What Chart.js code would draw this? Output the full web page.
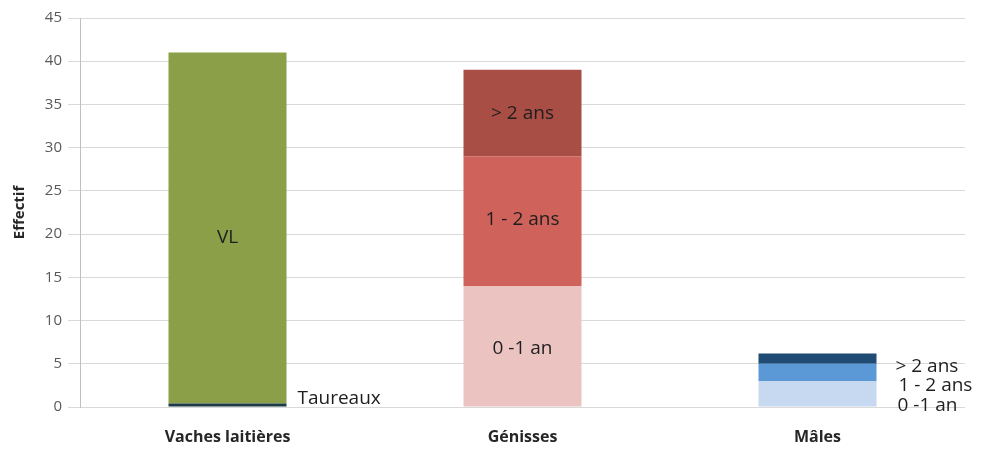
<!DOCTYPE html>
<html>
<head>
<meta charset="utf-8">
<script src="https://cdn.jsdelivr.net/npm/chart.js@4"></script>
<style>
  html, body { margin: 0; padding: 0; background: #ffffff; }
  #wrap { width: 985px; height: 450px; position: relative; }
</style>
</head>
<body>
<div id="wrap"><canvas id="c" width="985" height="450"></canvas></div>
<script>
// ---- Data ----
const categories = ['Vaches laitières', 'Génisses', 'Mâles'];
const yTicks = [0, 5, 10, 15, 20, 25, 30, 35, 40, 45];

const taureaux      = [0.4, null, null];
const vachesVL      = [40.6, null, null];
const genisses0_1   = [null, 14, null];
const genisses1_2   = [null, 15, null];
const genisses2plus = [null, 10, null];
const males0_1      = [null, null, 3];
const males1_2      = [null, null, 2];
const males2plus    = [null, null, 1.2];

const FONT = '"Open Sans", Lato, "Liberation Sans", sans-serif';

function ds(label, data, color, text, place, dx, dy) {
  return {
    label, data, backgroundColor: color, borderWidth: 0,
    categoryPercentage: 1.0, barPercentage: 0.4,
    segLabel: { text, place, dx: dx || 0, dy: dy || 0 }
  };
}

const datasets = [
  ds('Taureaux', taureaux, '#1D3B46', 'Taureaux', 'right', 11, -6),
  ds('VL', vachesVL, '#8A9F47', 'VL', 'inside', 0, 10),
  ds('Génisses 0-1 an', genisses0_1, '#EBC4C2', '0 -1 an', 'inside', 0, 2),
  ds('Génisses 1-2 ans', genisses1_2, '#CF625A', '1 - 2 ans', 'inside', 0, -2),
  ds('Génisses > 2 ans', genisses2plus, '#A84E45', '> 2 ans', 'inside', 0, 1),
  ds('Mâles 0-1 an', males0_1, '#C6D9F0', '0 -1 an', 'right', 21, 12),
  ds('Mâles 1-2 ans', males1_2, '#5B99D6', '1 - 2 ans', 'right', 22, 13),
  ds('Mâles > 2 ans', males2plus, '#1F4B74', '> 2 ans', 'right', 19, 8)
];

const segLabelPlugin = {
  id: 'segLabels',
  afterDatasetsDraw(chart) {
    const ctx = chart.ctx;
    ctx.save();
    ctx.font = '19px ' + FONT;
    ctx.fillStyle = '#1e1e1e';
    ctx.textBaseline = 'middle';
    chart.data.datasets.forEach((d, i) => {
      const meta = chart.getDatasetMeta(i);
      const cfg = d.segLabel;
      if (!cfg) return;
      d.data.forEach((v, j) => {
        if (v === null || v === undefined) return;
        const el = meta.data[j];
        const p = el.getProps(['x', 'y', 'base', 'width'], true);
        const midY = (p.y + p.base) / 2;
        if (cfg.place === 'inside') {
          ctx.textAlign = 'center';
          ctx.fillText(cfg.text, p.x + cfg.dx, midY + cfg.dy);
        } else {
          ctx.textAlign = 'left';
          ctx.fillText(cfg.text, p.x + p.width / 2 + cfg.dx, midY + cfg.dy);
        }
      });
    });
    ctx.restore();
  }
};

new Chart(document.getElementById('c'), {
  type: 'bar',
  data: { labels: categories, datasets },
  plugins: [segLabelPlugin],
  options: {
    responsive: false,
    animation: false,
    layout: { padding: { left: 0, right: 20, top: 18, bottom: 0 } },
    plugins: { legend: { display: false }, tooltip: { enabled: false } },
    scales: {
      x: {
        stacked: true,
        grid: { display: false, drawTicks: false },
        border: { display: false },
        ticks: { padding: 21, color: '#262626', font: { family: FONT, size: 16, weight: 'bold' } },
        afterFit(scale) { scale.height = 43; }
      },
      y: {
        stacked: true,
        min: 0, max: 45,
        afterBuildTicks(scale) { scale.ticks = yTicks.map(v => ({ value: v })); },
        grid: { color: '#D9D9D9', tickLength: 12, tickColor: '#D9D9D9' },
        border: { display: true, color: '#BFBFBF' },
        ticks: { padding: 6, color: '#595959', font: { family: FONT, size: 15 } },
        title: { display: true, text: 'Effectif', color: '#262626', padding: { top: 11, bottom: 0 },
                 font: { family: FONT, size: 15, weight: 'bold' } },
        afterFit(scale) { scale.width = 80; }
      }
    }
  }
});
</script>
</body>
</html>
